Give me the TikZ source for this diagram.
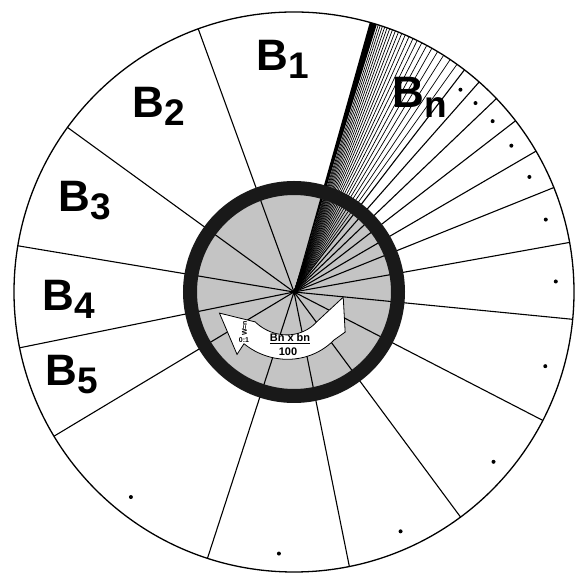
\documentclass[tikz,border=0pt]{standalone}
\usepackage{fontspec}
\setmainfont{Liberation Sans}
\definecolor{discgrey}{gray}{0.77}
\definecolor{ringblack}{gray}{0.1}
\begin{document}
\begin{tikzpicture}[x=1pt,y=1pt,
  spoke/.style={line width=1.1pt, black},
  fanline/.style={line width=0.7pt, black},
  biglab/.style={font=\fontsize{44}{44}\selectfont\bfseries, inner sep=0pt, anchor=base},
  sublab/.style={font=\fontsize{37}{37}\selectfont\bfseries, inner sep=0pt, anchor=base west},
  dotmark/.style={circle, fill=black, inner sep=0pt, minimum size=4pt},
  arrowtxt/.style={font=\fontsize{11}{11}\selectfont\bfseries, inner sep=0pt},
  smalltxt/.style={font=\fontsize{7}{7}\selectfont\bfseries, inner sep=0pt}]
\useasboundingbox (0,0) rectangle (584,575);
\coordinate (C) at (294,283);
\fill[white] (C) circle (280);
\fill[discgrey] (C) circle (98);
\begin{scope}[shift={(294,283)}]
  % main spokes
  \foreach \a in {110,144,170.5,191.5,211,252,281.4,306.5,332.7,354.4,10.2,21.9,30.2,37.7,43.7,48.6,52.5}
    \draw[spoke] (0,0) -- (\a:280);
  % fan of B_n
  \foreach \a in {54.4,56.1,57.7,59.15,60.5,61.7,62.85,63.9,64.85,65.75,66.6,67.37,68.1,68.78,69.42,70.02,70.58,71.1,71.6,72.07,72.5}
    \draw[fanline] (0,0) -- (\a:280);
  \fill[black] (0,0) -- (72.8:280) -- (74.3:280) -- cycle;
\end{scope}
% ring
\draw[line width=14pt, ringblack] (C) circle (104);
% curved white arrow
\begin{scope}[shift={(294,283)}]
  \draw[fill=white, line width=0.8pt, line join=miter]
    (195.8:77.5) -- (227.6:84.5) -- (226:72)
    -- plot[domain=226:309.8, samples=25] (\x:{72-(\x-226)*9.5/83.8})
    -- (321.9:65) -- (354:49.5) -- (307:37.5)
    -- plot[domain=307:217.6, samples=25] (\x:{37.5+(307-\x)*11.5/89.4})
    -- cycle;
  % dots
  \foreach \a in {50.55,46.15,40.7,33.95,26.05,16.05,2.3,343.55,319.6,294,266.7,231.5}
    \node[dotmark] at (\a:262) {};
\end{scope}
\node[arrowtxt] (frac) at (290,236.5) {\underline{Bn x bn}};
\node[arrowtxt] (hund) at (288,223) {100};
\node[smalltxt, rotate=90] (wn) at (244.5,246.5) {W=n};
\node[smalltxt] (ratio) at (244,235) {0:1};
% labels
\node[biglab] (b1) at (272,504) {B};
\node[sublab] at ([yshift=-8pt]b1.base east) {1};
\node[biglab] (b2) at (148,457) {B};
\node[sublab] at ([yshift=-8pt]b2.base east) {2};
\node[biglab] (b3) at (74,363) {B};
\node[sublab] at ([yshift=-8pt]b3.base east) {3};
\node[biglab] (b4) at (58,264) {B};
\node[sublab] at ([yshift=-8pt]b4.base east) {4};
\node[biglab] (b5) at (61,189) {B};
\node[sublab] at ([yshift=-8pt]b5.base east) {5};
\node[biglab] (bn) at (408,467) {B};
\node[sublab] at ([yshift=-10pt]bn.base east) {n};
% outer circle
\draw[line width=1.3pt] (C) circle (280);
\end{tikzpicture}
\end{document}
